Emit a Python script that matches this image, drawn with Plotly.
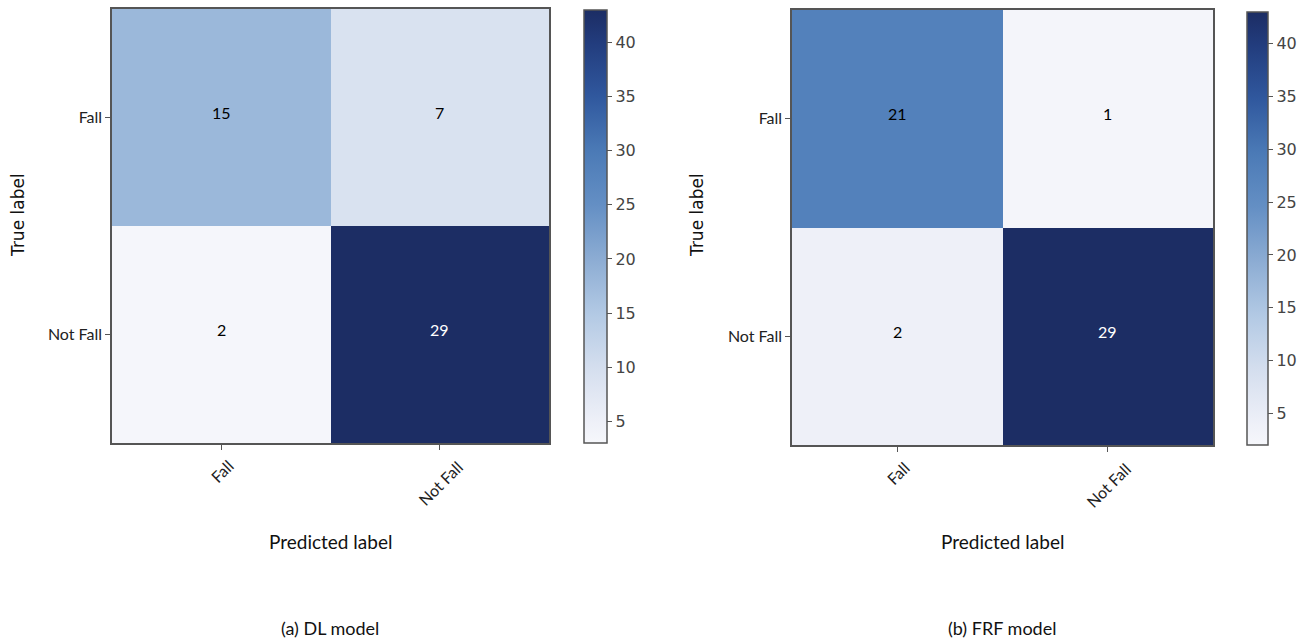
import plotly.graph_objects as go

# ---- data ----
classes = ["Fall", "Not Fall"]
dl_counts = [[15, 7], [2, 29]]
frf_counts = [[21, 1], [2, 29]]
# colour level of each cell
dl_levels = [[18, 9], [3.2, 43]]
frf_levels = [[28, 2.5], [4, 43]]
cbar_ticks = [5, 10, 15, 20, 25, 30, 35, 40]
dl_range = [3, 43]
frf_range = [2, 43]
panel_titles = ["(a) DL model", "(b) FRF model"]

W, H = 1313, 640
blues = [
    [0.0, "rgb(246,247,251)"], [0.05, "rgb(238,240,248)"], [0.175, "rgb(212,222,238)"],
    [0.3, "rgb(178,201,228)"], [0.425, "rgb(140,172,211)"], [0.55, "rgb(100,143,196)"],
    [0.675, "rgb(75,122,182)"], [0.8, "rgb(48,88,158)"], [0.925, "rgb(34,60,125)"],
    [1.0, "rgb(28,45,100)"],
]

def px_x(p):
    return p / W

def px_y(p):
    return 1 - p / H

fig = go.Figure()

panels = [
    dict(counts=dl_counts, levels=dl_levels, rng=dl_range, xd=(112, 549), yd=(9, 443),
         cb=(584, 23, 10, 443), ax="x", ay="y", ylab_x=18, title=panel_titles[0]),
    dict(counts=frf_counts, levels=frf_levels, rng=frf_range, xd=(792, 1213), yd=(10, 445),
         cb=(1247, 21, 12, 445), ax="x2", ay="y2", ylab_x=697, title=panel_titles[1]),
]

annotations = []
for i, p in enumerate(panels):
    cbx, cbt, cbtop, cbbot = p["cb"]
    fig.add_trace(go.Heatmap(
        z=p["levels"], x=classes, y=classes,
        colorscale=blues, zmin=p["rng"][0], zmax=p["rng"][1],
        xaxis=p["ax"], yaxis=p["ay"], hoverinfo="skip",
        colorbar=dict(
            x=px_x(cbx), xanchor="left", xpad=0, ypad=0,
            y=px_y((cbtop + cbbot) / 2), yanchor="middle",
            len=(cbbot - cbtop) / H, lenmode="fraction", thickness=cbt,
            outlinecolor="#555", outlinewidth=1.5,
            tickvals=cbar_ticks, ticks="outside", ticklen=5, tickcolor="#555",
            tickfont=dict(family="DejaVu Sans", size=16, color="#444"),
        ),
    ))
    # cell counts
    for r in range(2):
        for c in range(2):
            annotations.append(dict(
                x=c, y=r, xref=p["ax"], yref=p["ay"], text=str(p["counts"][r][c]),
                showarrow=False, yshift=5,
                font=dict(family="Lato, sans-serif", size=16,
                          color="white" if p["levels"][r][c] > 36 else "black"),
            ))
    sfx = "" if i == 0 else "2"
    fig.update_layout(**{
        "xaxis" + sfx: dict(domain=[px_x(p["xd"][0]), px_x(p["xd"][1])], anchor=p["ay"],
                            showline=True, mirror=True, linecolor="#555", linewidth=1.5,
                            ticks="outside", ticklen=5, tickcolor="#555",
                            showticklabels=False, showgrid=False, zeroline=False),
        "yaxis" + sfx: dict(domain=[px_y(p["yd"][1]), px_y(p["yd"][0])], anchor=p["ax"],
                            autorange="reversed",
                            showline=True, mirror=True, linecolor="#555", linewidth=1.5,
                            ticks="outside", ticklen=5, tickcolor="#555",
                            tickfont=dict(family="Lato, sans-serif", size=16, color="#222"),
                            showgrid=False, zeroline=False),
    })
    xc = (p["xd"][0] + p["xd"][1]) / 2
    # rotated x tick labels centred on the ticks
    for j, c in enumerate(classes):
        annotations.append(dict(
            x=j, xref=p["ax"], y=px_y(p["yd"][1] + (28 if j == 0 else 40)), yref="paper",
            text=c, textangle=-45, showarrow=False, xanchor="center", yanchor="middle",
            font=dict(family="Lato, sans-serif", size=16, color="#222"),
        ))
    annotations.append(dict(
        x=px_x(xc), xref="paper", y=px_y(541), yref="paper", text="Predicted label",
        showarrow=False, xanchor="center", yanchor="middle",
        font=dict(family="Lato, sans-serif", size=19, color="#111"),
    ))
    annotations.append(dict(
        x=px_x(p["ylab_x"]), xref="paper", y=px_y(215), yref="paper", text="True label",
        textangle=-90, showarrow=False, xanchor="center", yanchor="middle",
        font=dict(family="DejaVu Sans", size=17, color="#111"),
    ))
    annotations.append(dict(
        x=px_x(xc - 1), xref="paper", y=px_y(628), yref="paper", text=p["title"],
        showarrow=False, xanchor="center", yanchor="middle",
        font=dict(family="Lato, sans-serif", size=18, color="#111"),
    ))

fig.update_layout(
    width=W, height=H, margin=dict(l=0, r=0, t=0, b=0),
    paper_bgcolor="white", plot_bgcolor="white",
    annotations=annotations, showlegend=False,
)

fig.write_html("out.html", config={"displayModeBar": False},
               post_script="document.body.style.margin='0';document.body.style.padding='0';")
